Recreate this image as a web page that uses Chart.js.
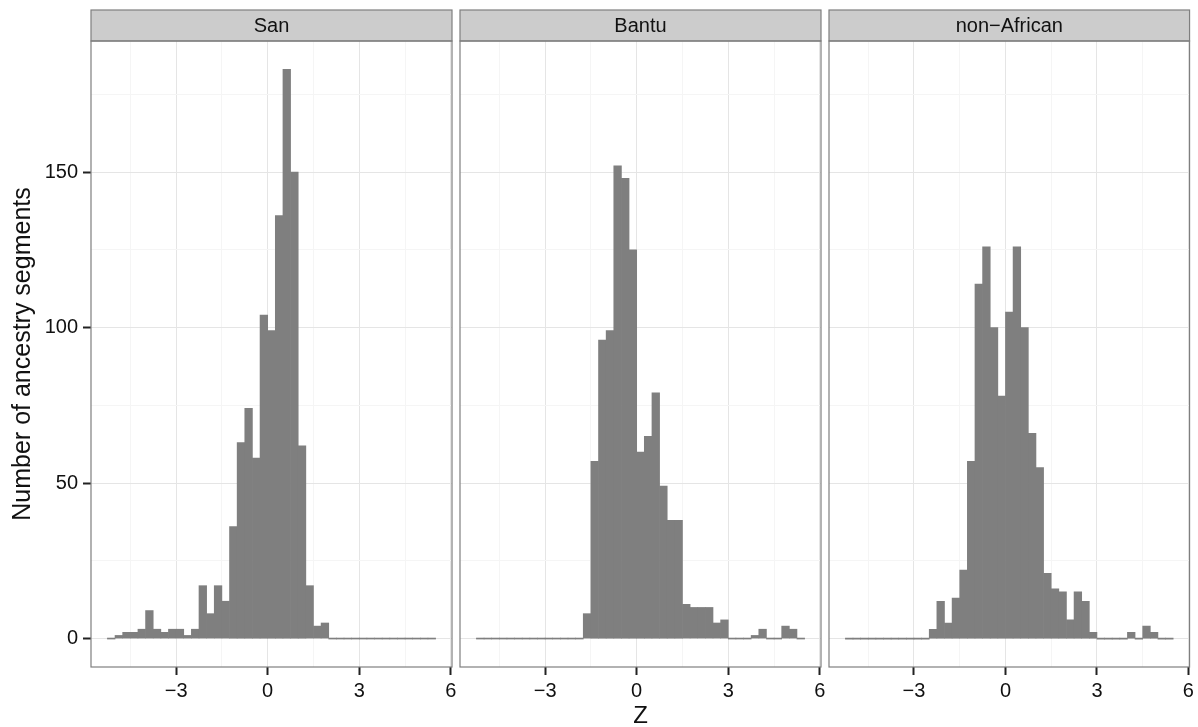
<!DOCTYPE html>
<html>
<head>
<meta charset="utf-8">
<style>
  html, body { margin: 0; padding: 0; background: #fff; overflow: hidden; }
  #wrap { position: relative; width: 1198px; height: 727px; overflow: hidden; }
  canvas { position: absolute; left: 0; top: 0; }
</style>
<script src="https://cdn.jsdelivr.net/npm/chart.js"></script>
</head>
<body>
<div id="wrap">
  <canvas id="c0" width="1198" height="745"></canvas>
  <canvas id="c1" width="1198" height="745"></canvas>
  <canvas id="c2" width="1198" height="745"></canvas>
</div>
<script>
// histogram bins (width 0.25), bar centres
const binMids = [-5.125, -4.875, -4.625, -4.375, -4.125, -3.875, -3.625, -3.375, -3.125, -2.875,
                 -2.625, -2.375, -2.125, -1.875, -1.625, -1.375, -1.125, -0.875, -0.625, -0.375,
                 -0.125, 0.125, 0.375, 0.625, 0.875, 1.125, 1.375, 1.625, 1.875, 2.125,
                 2.375, 2.625, 2.875, 3.125, 3.375, 3.625, 3.875, 4.125, 4.375, 4.625,
                 4.875, 5.125, 5.375];

const sanCounts = [0, 1, 2, 2, 3, 9, 3, 2, 3, 3,
                   1, 3, 17, 8, 17, 12, 36, 63, 74, 58,
                   104, 99, 136, 183, 150, 62, 17, 4, 5, 0,
                   0, 0, 0, 0, 0, 0, 0, 0, 0, 0,
                   0, 0, 0];
const bantuCounts = [0, 0, 0, 0, 0, 0, 0, 0, 0, 0,
                     0, 0, 0, 0, 8, 57, 96, 99, 152, 148,
                     125, 60, 65, 79, 49, 38, 38, 11, 10, 10,
                     10, 5, 6, 0, 0, 0, 1, 3, 0, 0,
                     4, 3, 0];
const nonAfricanCounts = [0, 0, 0, 0, 0, 0, 0, 0, 0, 0,
                          0, 3, 12, 5, 13, 22, 57, 114, 126, 100,
                          78, 105, 126, 100, 66, 55, 21, 16, 15, 6,
                          15, 12, 2, 0, 0, 0, 0, 2, 0, 4,
                          2, 0, 0];

const panelNames = ['San', 'Bantu', 'non\u2212African'];
const panelCounts = [sanCounts, bantuCounts, nonAfricanCounts];

const xTicks = [-4.5, -3, -1.5, 0, 1.5, 3, 4.5, 6];
const xMajor = [-3, 0, 3, 6];
const yTicks = [0, 25, 50, 75, 100, 125, 150, 175];
const yMajor = [0, 50, 100, 150];

const FONT = "'Liberation Sans', Arial, Helvetica, sans-serif";
const W = 1198;
const panelLeft = [91, 460, 829];
const panelWidth = 361;
const panelTop = 41;
const panelBottom = 667;
const canvasH = 745;

function fmt(v) {
  return v < 0 ? '\u2212' + Math.abs(v) : String(v);
}

// strip + panel border, ggplot theme_bw style
const facetDecor = {
  id: 'facetDecor',
  afterDraw(chart, args, opts) {
    const { ctx, chartArea: a } = chart;
    ctx.save();
    ctx.fillStyle = '#CCCCCC';
    ctx.fillRect(a.left, 10, a.right - a.left, panelTop - 10);
    ctx.strokeStyle = '#7F7F7F';
    ctx.lineWidth = 1.2;
    ctx.strokeRect(a.left, 10, a.right - a.left, panelTop - 10);
    ctx.strokeRect(a.left, a.top, a.right - a.left, a.bottom - a.top);
    ctx.fillStyle = '#111';
    ctx.font = '20px ' + FONT;
    ctx.textAlign = 'center';
    ctx.textBaseline = 'middle';
    ctx.fillText(opts.label, (a.left + a.right) / 2, 26);
    ctx.restore();
  }
};

function makePanel(i) {
  const first = i === 0;
  const data = binMids.map((x, k) => ({ x: x, y: panelCounts[i][k] }));
  new Chart(document.getElementById('c' + i), {
    type: 'bar',
    data: {
      datasets: [{
        data: data,
        backgroundColor: '#7F7F7F',
        borderWidth: 0,
        barPercentage: 1,
        categoryPercentage: 1,
        minBarLength: 1
      }]
    },
    options: {
      responsive: false,
      animation: false,
      events: [],
      layout: {
        padding: {
          left: first ? 0 : panelLeft[i],
          right: W - panelLeft[i] - panelWidth,
          top: panelTop,
          bottom: 0
        }
      },
      plugins: {
        legend: { display: false },
        tooltip: { enabled: false },
        facetDecor: { label: panelNames[i] }
      },
      scales: {
        x: {
          type: 'linear',
          min: -5.7875,
          max: 6.0375,
          offset: false,
          afterBuildTicks: s => { s.ticks = xTicks.map(v => ({ value: v })); },
          afterFit: s => { s.height = canvasH - panelBottom; },
          ticks: {
            autoSkip: false,
            maxRotation: 0,
            padding: 4,
            color: '#111',
            font: { family: FONT, size: 20 },
            callback: v => xMajor.includes(v) ? fmt(v) : ''
          },
          grid: {
            offset: false,
            lineWidth: 1,
            color: c => xMajor.includes(c.tick.value) ? '#E5E5E5' : '#F5F5F5',
            tickLength: 8,
            tickWidth: 2,
            tickColor: c => xMajor.includes(c.tick.value) ? '#222' : 'rgba(0,0,0,0)'
          },
          border: { display: false },
          title: {
            display: i === 1,
            text: 'Z',
            color: '#111',
            font: { family: FONT, size: 24 },
            padding: { top: 0, bottom: 14 }
          }
        },
        y: {
          min: -9.15,
          max: 192.15,
          afterBuildTicks: s => { s.ticks = yTicks.map(v => ({ value: v })); },
          afterFit: s => { s.width = first ? panelLeft[0] : 0; },
          ticks: {
            display: first,
            padding: 5,
            color: '#111',
            font: { family: FONT, size: 20 },
            callback: v => yMajor.includes(v) ? fmt(v) : ''
          },
          grid: {
            lineWidth: 1,
            drawTicks: first,
            color: c => yMajor.includes(c.tick.value) ? '#E5E5E5' : '#F5F5F5',
            tickLength: 8,
            tickWidth: 2,
            tickColor: c => yMajor.includes(c.tick.value) ? '#222' : 'rgba(0,0,0,0)'
          },
          border: { display: false },
          title: {
            display: first,
            text: 'Number of ancestry segments',
            color: '#111',
            font: { family: FONT, size: 25 },
            padding: { top: 8, bottom: 0 }
          }
        }
      }
    },
    plugins: [facetDecor]
  });
}

[0, 1, 2].forEach(makePanel);
</script>
</body>
</html>
